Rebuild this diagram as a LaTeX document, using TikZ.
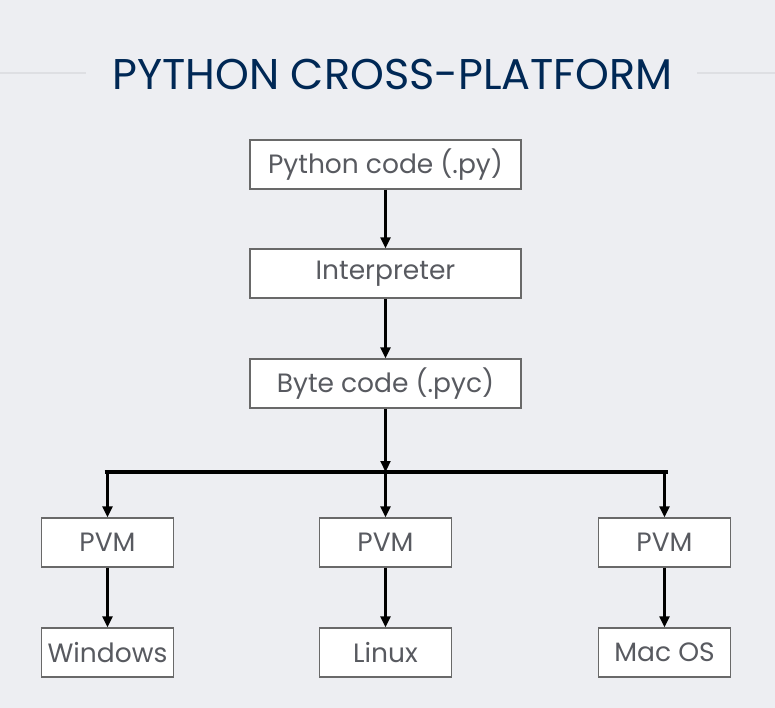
\documentclass[tikz,border=0pt]{standalone}
\usepackage{fontspec}
\setmainfont{Poppins}
\usetikzlibrary{arrows.meta}
\definecolor{bgc}{RGB}{237,238,242}
\definecolor{titlec}{RGB}{0,40,85}
\definecolor{txtc}{RGB}{88,90,96}
\definecolor{boxc}{RGB}{105,105,105}
\definecolor{rulec}{RGB}{222,223,227}
\tikzset{
  box/.style={draw=boxc, line width=1.3pt, fill=white, inner sep=0pt, text=txtc,
    font=\fontsize{26.5}{30}\selectfont, minimum height=49pt},
  wide/.style={box, minimum width=271pt},
  small/.style={box, minimum width=132pt},
  arr/.style={-{Triangle[length=11pt,width=10pt]}, line width=2.2pt, black},
}
\begin{document}
\begin{tikzpicture}[x=1pt,y=-1pt]
\fill[bgc] (0,0) rectangle (775,708);
\useasboundingbox (0,0) rectangle (775,708);
\draw[rulec, line width=2pt] (0,73) -- (86,73);
\draw[rulec, line width=2pt] (697,73) -- (775,73);
\node[text=titlec, font=\fontsize{43}{47}\selectfont, inner sep=0pt] (title) at (392.5,74) {PYTHON CROSS-PLATFORM};
\node[wide] (py) at (385.5,164.5) {Python code (.py)};
\node[wide] (interp) at (385.5,273.5) {Interpreter};
\node[wide] (byte) at (385.5,383.5) {Byte code (.pyc)};
\node[small] (pvm1) at (107.5,542.5) {PVM};
\node[small] (pvm2) at (385.5,542.5) {PVM};
\node[small] (pvm3) at (664.5,542.5) {PVM};
\node[small] (win) at (107.5,652.5) {Windows};
\node[small] (lin) at (385.5,652.5) {Linux};
\node[small] (mac) at (664.5,652.5) {Mac OS};
\coordinate (j) at (385.5,472);
\coordinate (jl) at (107.5,472);
\coordinate (jr) at (664.5,472);
\draw[arr] (py) -- (interp);
\draw[arr] (interp) -- (byte);
\draw[arr] (byte) -- (j);
\draw[black, line width=3.5pt] ([xshift=-3pt]jl) -- ([xshift=3pt]jr);
\draw[arr] (jl) -- (pvm1);
\draw[arr] (j) -- (pvm2);
\draw[arr] (jr) -- (pvm3);
\draw[arr] (pvm1) -- (win);
\draw[arr] (pvm2) -- (lin);
\draw[arr] (pvm3) -- (mac);
\end{tikzpicture}
\end{document}
